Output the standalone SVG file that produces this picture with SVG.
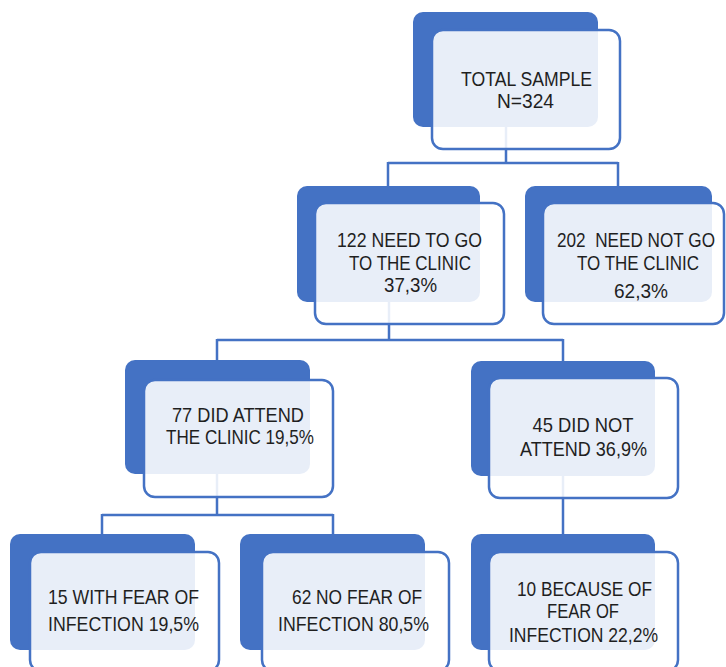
<svg xmlns="http://www.w3.org/2000/svg" width="726" height="667" viewBox="0 0 726 667">
<style>
.back{fill:#4472C4;}
.front{fill:#ffffff;fill-opacity:0.88;stroke:#4472C4;stroke-width:2.5;}
.conn{stroke:#4472C4;stroke-width:2.5;fill:none;}
text{font-family:"Liberation Sans",Arial,sans-serif;font-size:21px;fill:#1f1f1f;text-anchor:middle;}
</style>
<rect width="726" height="667" fill="#ffffff"/>
<g id="connectors">
<path class="conn" d="M506 120 V163 M388 163 H618 M388 162 V188 M618 162 V188"/>
<path class="conn" d="M389 300 V340 M217 340 H563 M217 339 V362 M563 339 V363"/>
<path class="conn" d="M217 470 V515 M102 515 H333 M102 514 V536 M333 514 V536"/>
<path class="conn" d="M563 470 V536"/>
</g>
<g id="node-total">
<rect class="back" x="413" y="12" width="185" height="115" rx="10"/>
<rect class="front" x="432" y="30" width="188" height="119" rx="11"/>
<text x="526.5" y="86" textLength="131" lengthAdjust="spacingAndGlyphs">TOTAL SAMPLE</text>
<text x="525.5" y="107.5" textLength="57" lengthAdjust="spacingAndGlyphs">N=324</text>
</g>
<g id="node-need">
<rect class="back" x="297" y="186" width="183" height="116" rx="10"/>
<rect class="front" x="315" y="203" width="189" height="121" rx="11"/>
<text x="409.5" y="247" textLength="145" lengthAdjust="spacingAndGlyphs">122 NEED TO GO</text>
<text x="410" y="270" textLength="122" lengthAdjust="spacingAndGlyphs">TO THE CLINIC</text>
<text x="410.5" y="292" textLength="53" lengthAdjust="spacingAndGlyphs">37,3%</text>
</g>
<g id="node-neednot">
<rect class="back" x="525" y="186" width="187" height="116" rx="10"/>
<rect class="front" x="543" y="203" width="181" height="121" rx="11"/>
<text x="636" y="247" textLength="158" lengthAdjust="spacingAndGlyphs" xml:space="preserve">202  NEED NOT GO</text>
<text x="638" y="270" textLength="122" lengthAdjust="spacingAndGlyphs">TO THE CLINIC</text>
<text x="641" y="298" textLength="54" lengthAdjust="spacingAndGlyphs">62,3%</text>
</g>
<g id="node-attend">
<rect class="back" x="125" y="360" width="185" height="114" rx="10"/>
<rect class="front" x="144" y="380" width="189" height="117" rx="11"/>
<text x="238" y="422" textLength="132" lengthAdjust="spacingAndGlyphs">77 DID ATTEND</text>
<text x="240" y="444" textLength="148" lengthAdjust="spacingAndGlyphs">THE CLINIC 19,5%</text>
</g>
<g id="node-notattend">
<rect class="back" x="471" y="361" width="184" height="115" rx="10"/>
<rect class="front" x="489" y="378" width="189" height="120" rx="11"/>
<text x="583" y="432" textLength="101" lengthAdjust="spacingAndGlyphs">45 DID NOT</text>
<text x="583.5" y="456" textLength="127" lengthAdjust="spacingAndGlyphs">ATTEND 36,9%</text>
</g>
<g id="node-withfear">
<rect class="back" x="10" y="534" width="185" height="116" rx="10"/>
<rect class="front" x="30" y="552" width="189" height="119" rx="11"/>
<text x="123.5" y="604" textLength="151" lengthAdjust="spacingAndGlyphs">15 WITH FEAR OF</text>
<text x="123.5" y="631" textLength="151" lengthAdjust="spacingAndGlyphs">INFECTION 19,5%</text>
</g>
<g id="node-nofear">
<rect class="back" x="240" y="534" width="185" height="116" rx="10"/>
<rect class="front" x="262" y="552" width="187" height="119" rx="11"/>
<text x="357" y="604" textLength="130" lengthAdjust="spacingAndGlyphs">62 NO FEAR OF</text>
<text x="353.5" y="631" textLength="151" lengthAdjust="spacingAndGlyphs">INFECTION 80,5%</text>
</g>
<g id="node-because">
<rect class="back" x="471" y="534" width="184" height="116" rx="10"/>
<rect class="front" x="489" y="552" width="189" height="119" rx="11"/>
<text x="584.5" y="596" textLength="135" lengthAdjust="spacingAndGlyphs">10 BECAUSE OF</text>
<text x="583" y="618" textLength="72" lengthAdjust="spacingAndGlyphs">FEAR OF</text>
<text x="583.5" y="642" textLength="149" lengthAdjust="spacingAndGlyphs">INFECTION 22,2%</text>
</g>
</svg>
